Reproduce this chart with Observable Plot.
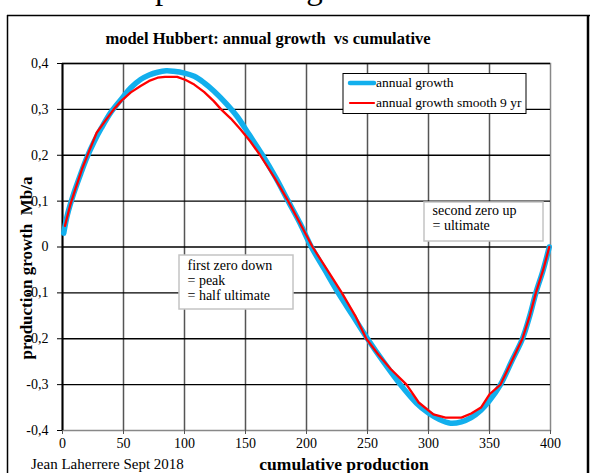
<!DOCTYPE html>
<html>
<head>
<meta charset="utf-8">
<script src="https://cdn.jsdelivr.net/npm/d3@7"></script>
<script src="https://cdn.jsdelivr.net/npm/@observablehq/plot@0.6"></script>
<style>
  html, body { margin: 0; padding: 0; background: #fff; }
  #chart { position: relative; width: 590px; height: 473px; overflow: hidden; background: #fff; }
  #chart svg { position: absolute; left: 0; top: 0; }
  #chart text { white-space: pre; }
</style>
</head>
<body>
<div id="chart"></div>
<script>
// Hubbert model: annual production growth plotted against cumulative production
const growthQ = [1, 4, 9, 15, 20, 26, 32, 40, 49, 56, 64, 71, 78, 85, 91, 100, 108, 116, 124, 134, 143, 153, 164, 175, 185, 195, 204, 215, 226, 238, 250, 263, 277, 290, 300, 309, 318, 327, 335, 343, 350, 359, 368, 377, 383, 388, 394, 399];
const growthV = [0.03, 0.07, 0.115, 0.16, 0.195, 0.23, 0.26, 0.295, 0.325, 0.347, 0.365, 0.375, 0.381, 0.384, 0.383, 0.379, 0.372, 0.358, 0.34, 0.313, 0.285, 0.245, 0.2, 0.15, 0.1, 0.05, 0, -0.05, -0.1, -0.15, -0.2, -0.25, -0.3, -0.34, -0.362, -0.376, -0.384, -0.381, -0.372, -0.356, -0.335, -0.3, -0.25, -0.2, -0.15, -0.1, -0.05, 0];

// 9-year smoothed growth
const smoothQ = [2, 6.5, 11, 16, 22, 28, 35, 42, 48, 56, 64, 71, 78, 84, 94, 101, 108, 116, 124, 130, 138, 146, 154, 162, 174, 185, 195, 205, 217, 229, 240, 249, 259, 269, 282, 292, 304, 314, 327, 335, 343, 350, 359, 368, 377, 383, 388, 394, 399];
const smoothV = [0.046, 0.093, 0.13, 0.17, 0.21, 0.249, 0.275, 0.3, 0.318, 0.337, 0.351, 0.362, 0.369, 0.371, 0.371, 0.364, 0.354, 0.338, 0.318, 0.3, 0.28, 0.256, 0.23, 0.2, 0.15, 0.1, 0.05, 0, -0.05, -0.1, -0.15, -0.2, -0.235, -0.266, -0.3, -0.339, -0.365, -0.372, -0.372, -0.363, -0.35, -0.321, -0.3, -0.25, -0.2, -0.15, -0.1, -0.05, 0];

const xTicks = [0, 50, 100, 150, 200, 250, 300, 350, 400];
const yTicks = [-0.4, -0.3, -0.2, -0.1, 0, 0.1, 0.2, 0.3, 0.4];

const seriesNames = ["annual growth", "annual growth smooth 9 yr"];
const seriesColors = ["#12afed", "#ff0000"];

const growth = growthQ.map((q, i) => ({q, v: growthV[i]}));
const smooth = smoothQ.map((q, i) => ({q, v: smoothV[i]}));

const fmt = d => d === 0 ? "0" : d.toFixed(1).replace(".", ",");

const plot = Plot.plot({
  width: 590,
  height: 473,
  marginLeft: 62,
  marginRight: 40,
  marginTop: 63,
  marginBottom: 43,
  style: {fontFamily: "'Liberation Serif', 'Times New Roman', serif", fontSize: "14px", color: "#000", background: "#fff"},
  x: {domain: [0, 400]},
  y: {domain: [-0.4, 0.4]},
  marks: [
    Plot.frame({stroke: "#888", strokeWidth: 1.5}),
    Plot.gridX(xTicks.slice(1, -1), {stroke: "#555", strokeOpacity: 1, strokeWidth: 1.5}),
    Plot.gridY(yTicks.slice(1), {stroke: "#000", strokeOpacity: 1, strokeWidth: 1.3}),
    Plot.axisX({ticks: xTicks, tickSize: 4, tickPadding: 4, label: null, fontSize: 14, stroke: "#555"}),
    Plot.axisY({ticks: yTicks, tickSize: 5, tickPadding: 9, tickFormat: fmt, label: null, fontSize: 14}),
    Plot.ruleX([0], {stroke: "#000", strokeWidth: 2}),
    Plot.line(growth, {x: "q", y: "v", stroke: seriesColors[0], strokeWidth: 5.5, curve: "catmull-rom"}),
    Plot.line(smooth, {x: "q", y: "v", stroke: seriesColors[1], strokeWidth: 2.3, curve: "linear"})
  ]
});
document.getElementById("chart").appendChild(plot);

// Titles, frame, legend and notes drawn on top of the plot
const ov = d3.select("#chart").append("svg")
  .attr("width", 590).attr("height", 473)
  .attr("font-family", "'Liberation Serif', 'Times New Roman', serif")
  .style("pointer-events", "none");

// outer border
ov.append("line").attr("x1", 7).attr("x2", 590).attr("y1", 15.5).attr("y2", 15.5).attr("stroke", "#000").attr("stroke-width", 1.5);
ov.append("line").attr("x1", 7.5).attr("x2", 7.5).attr("y1", 15).attr("y2", 473).attr("stroke", "#000").attr("stroke-width", 1.5);
ov.append("line").attr("x1", 588).attr("x2", 588).attr("y1", 15).attr("y2", 473).attr("stroke", "#000").attr("stroke-width", 2.5);

// headline above the border
ov.append("text").attr("x", 155).attr("y", -1).attr("font-size", 33).text("production growth");

ov.append("text").attr("x", 268).attr("y", 44).attr("text-anchor", "middle")
  .attr("font-size", 16.5).attr("font-weight", "bold").text("model Hubbert: annual growth  vs cumulative");

ov.append("text").attr("transform", "translate(32,268) rotate(-90)").attr("text-anchor", "middle")
  .attr("font-size", 17).attr("font-weight", "bold").text("production growth  Mb/a");

ov.append("text").attr("x", 344).attr("y", 470).attr("text-anchor", "middle")
  .attr("font-size", 17.5).attr("font-weight", "bold").text("cumulative production");

ov.append("text").attr("x", 31).attr("y", 469).attr("font-size", 15).text("Jean Laherrere Sept 2018");

// legend
ov.append("rect").attr("x", 343).attr("y", 73.5).attr("width", 183).attr("height", 40)
  .attr("fill", "#fff").attr("stroke", "#000").attr("stroke-width", 1);
const legY = [83, 103];
seriesNames.forEach((name, i) => {
  ov.append("line").attr("x1", 350).attr("x2", 374).attr("y1", legY[i]).attr("y2", legY[i])
    .attr("stroke", seriesColors[i]).attr("stroke-width", i === 0 ? 4.5 : 2.2).attr("stroke-linecap", "round");
  ov.append("text").attr("x", 376).attr("y", legY[i] + 4).attr("font-size", 13.5).text(name);
});

// notes
function note(x, y, w, h, lines, baselines) {
  ov.append("rect").attr("x", x).attr("y", y).attr("width", w).attr("height", h)
    .attr("fill", "#fff").attr("stroke", "#c4c4c4").attr("stroke-width", 1.5);
  lines.forEach((t, i) => {
    ov.append("text").attr("x", x + 8.5).attr("y", baselines[i]).attr("font-size", 14).text(t);
  });
}
note(179, 255, 114, 54, ["first zero down", "= peak", "= half ultimate"], [269.5, 284.5, 299.5]);
note(424, 202, 119, 39, ["second zero up", "= ultimate"], [215, 229.5]);
</script>
</body>
</html>
